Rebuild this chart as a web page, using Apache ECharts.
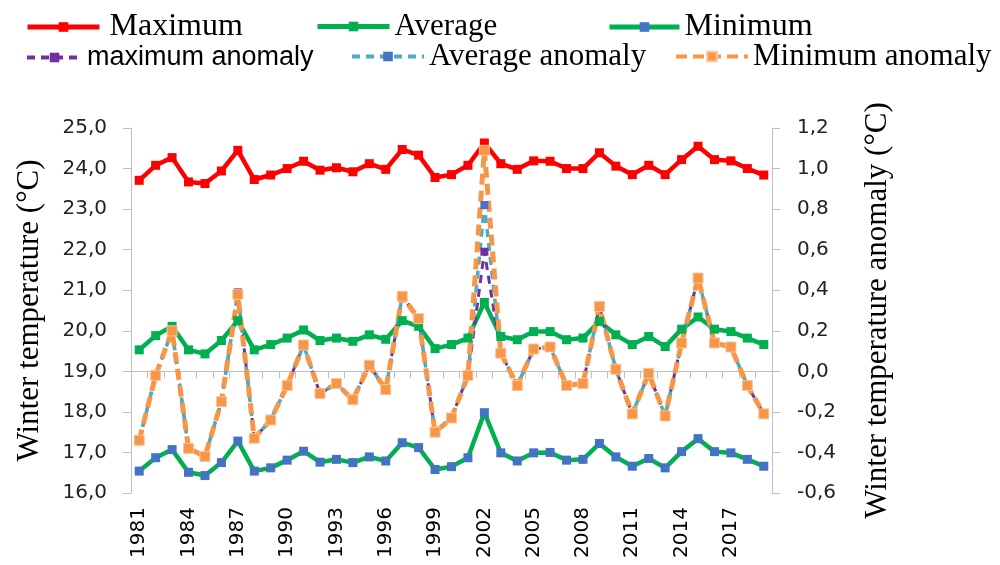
<!DOCTYPE html>
<html>
<head>
<meta charset="utf-8">
<script src="https://cdn.jsdelivr.net/npm/echarts@6/dist/echarts.min.js"></script>
<style>html,body{margin:0;padding:0;background:#fff}#c{width:1000px;height:565px}</style>
</head>
<body>
<div id="c"></div>
<script>
const years = [];
for (let y = 1981; y <= 2019; y++) years.push(String(y));

const maxT = [23.71, 24.08, 24.27, 23.67, 23.63, 23.94, 24.45, 23.73, 23.84, 24.00,
              24.18, 23.96, 24.02, 23.92, 24.12, 23.98, 24.47, 24.33, 23.78, 23.85,
              24.08, 24.63, 24.12, 23.98, 24.19, 24.18, 24.00, 24.00, 24.39, 24.06,
              23.85, 24.08, 23.85, 24.22, 24.55, 24.22, 24.19, 24.00, 23.84];
const avgT = [19.53, 19.88, 20.11, 19.53, 19.43, 19.76, 20.25, 19.53, 19.66, 19.82,
              20.02, 19.76, 19.82, 19.74, 19.90, 19.79, 20.25, 20.11, 19.56, 19.66,
              19.82, 20.70, 19.86, 19.78, 19.98, 19.98, 19.78, 19.82, 20.23, 19.90,
              19.66, 19.86, 19.61, 20.04, 20.34, 20.04, 19.98, 19.82, 19.66];
const minT = [16.54, 16.87, 17.07, 16.51, 16.43, 16.75, 17.28, 16.54, 16.62, 16.81,
              17.03, 16.76, 16.83, 16.75, 16.89, 16.79, 17.24, 17.12, 16.58, 16.65,
              16.87, 17.98, 16.99, 16.79, 16.99, 17.00, 16.81, 16.83, 17.22, 16.89,
              16.66, 16.85, 16.62, 17.02, 17.34, 17.02, 16.99, 16.83, 16.66];
const maxAnom = [-0.34, -0.02, 0.20, -0.38, -0.42, -0.15, 0.39, -0.33, -0.24, -0.07,
                 0.13, -0.11, -0.06, -0.14, 0.03, -0.09, 0.37, 0.26, -0.30, -0.23,
                 -0.02, 0.59, 0.09, -0.07, 0.11, 0.12, -0.07, -0.06, 0.32, 0.01,
                 -0.21, -0.01, -0.22, 0.14, 0.46, 0.14, 0.12, -0.07, -0.21];
const avgAnom = [-0.34, -0.02, 0.20, -0.38, -0.42, -0.15, 0.38, -0.33, -0.24, -0.07,
                 0.13, -0.11, -0.06, -0.14, 0.03, -0.09, 0.37, 0.26, -0.30, -0.23,
                 -0.02, 0.82, 0.09, -0.07, 0.11, 0.12, -0.07, -0.06, 0.32, 0.01,
                 -0.21, -0.01, -0.22, 0.14, 0.46, 0.14, 0.12, -0.07, -0.21];
const minAnom = [-0.34, -0.02, 0.20, -0.38, -0.42, -0.15, 0.38, -0.33, -0.24, -0.07,
                 0.13, -0.11, -0.06, -0.14, 0.03, -0.09, 0.37, 0.26, -0.30, -0.23,
                 -0.02, 1.09, 0.09, -0.07, 0.11, 0.12, -0.07, -0.06, 0.32, 0.01,
                 -0.21, -0.01, -0.22, 0.14, 0.46, 0.14, 0.12, -0.07, -0.21];

const SERIF = '"Liberation Serif", "Times New Roman", serif';
const SANS = '"DejaVu Sans", sans-serif';
const fmt = v => { if (Math.abs(v) < 1e-9) v = 0; return v.toFixed(1).replace('.', ','); };

function leg(name, left, top, font, size, w, lw, pad) {
  return {
    data: [name], left: left, top: top, itemWidth: w, itemHeight: 12,
    padding: 0, itemGap: 0,
    lineStyle: { width: lw },
    textStyle: { fontFamily: font, fontSize: size, color: '#000', padding: [0, 0, 0, pad || 0] }
  };
}

const chart = echarts.init(document.getElementById('c'), null, { renderer: 'canvas' });
chart.setOption({
  animation: false,
  backgroundColor: '#fff',
  legend: [
    leg('Maximum', 25, 11, SERIF, 32, 72, 5, 5),
    leg('Average', 315, 11, SERIF, 31, 72, 5, 0),
    leg('Minimum', 607, 11, SERIF, 32, 70, 5, 0),
    leg('maximum anomaly', 25, 44, '"Liberation Sans", sans-serif', 27, 55, 4, 0),
    leg('Average anomaly', 350, 41, SERIF, 31, 72, 4, 0),
    leg('Minimum anomaly', 674, 41, SERIF, 31, 72, 4, 0)
  ],
  grid: { left: 131, right: 228, top: 128, bottom: 72 },
  xAxis: {
    type: 'category', data: years, boundaryGap: true,
    axisLine: { lineStyle: { color: '#bfbfbf', width: 1 } },
    axisTick: { show: true, interval: 0, length: 7, lineStyle: { color: '#bfbfbf' } },
    axisLabel: { interval: 2, rotate: 90, margin: 14, fontFamily: SANS, fontSize: 20, color: '#000' }
  },
  yAxis: [
    {
      type: 'value', min: 16, max: 25, interval: 1, position: 'left',
      name: 'Winter temperature (°C)', nameLocation: 'middle', nameRotate: 90, nameGap: 86,
      nameTextStyle: { fontFamily: SERIF, fontSize: 31, color: '#000' },
      axisLine: { show: true, lineStyle: { color: '#bfbfbf' } },
      axisTick: { show: true, length: 8, lineStyle: { color: '#bfbfbf' } },
      splitLine: { show: false },
      axisLabel: { formatter: fmt, margin: 24, fontFamily: SANS, fontSize: 20, color: '#222' }
    },
    {
      type: 'value', min: -0.6, max: 1.2, interval: 0.2, position: 'right',
      name: 'Winter temperature anomaly (°C)', nameLocation: 'middle', nameRotate: 90, nameGap: 90,
      nameTextStyle: { fontFamily: SERIF, fontSize: 31, color: '#000' },
      axisLine: { show: true, lineStyle: { color: '#bfbfbf' } },
      axisTick: { show: true, length: 8, lineStyle: { color: '#bfbfbf' } },
      splitLine: { show: false },
      axisLabel: { formatter: fmt, margin: 25, fontFamily: SANS, fontSize: 20, color: '#222' }
    }
  ],
  series: [
    {
      name: 'Maximum', type: 'line', data: maxT, yAxisIndex: 0,
      symbol: 'rect', symbolSize: 9,
      lineStyle: { color: '#ff0000', width: 4.5 },
      itemStyle: { color: '#ff0000' }
    },
    {
      name: 'Average', type: 'line', data: avgT, yAxisIndex: 0,
      symbol: 'rect', symbolSize: 9,
      lineStyle: { color: '#00b050', width: 4.5 },
      itemStyle: { color: '#00b050' }
    },
    {
      name: 'Minimum', type: 'line', data: minT, yAxisIndex: 0,
      symbol: 'rect', symbolSize: 9,
      lineStyle: { color: '#00b050', width: 4.5 },
      itemStyle: { color: '#4472c4' }
    },
    {
      name: 'maximum anomaly', type: 'line', data: maxAnom, yAxisIndex: 1,
      symbol: 'rect', symbolSize: 8,
      lineStyle: { color: '#7030a0', width: 3, type: [8, 6] },
      itemStyle: { color: '#7030a0' }
    },
    {
      name: 'Average anomaly', type: 'line', data: avgAnom, yAxisIndex: 1,
      symbol: 'rect', symbolSize: 8,
      lineStyle: { color: '#4bacc6', width: 3.5, type: [8, 6] },
      itemStyle: { color: '#4472c4' }
    },
    {
      name: 'Minimum anomaly', type: 'line', data: minAnom, yAxisIndex: 1,
      symbol: 'rect', symbolSize: 10,
      lineStyle: { color: '#f79646', width: 5, type: [11, 6] },
      itemStyle: { color: '#f79646', borderColor: '#fac39a', borderWidth: 1 }
    }
  ]
});
</script>
</body>
</html>
